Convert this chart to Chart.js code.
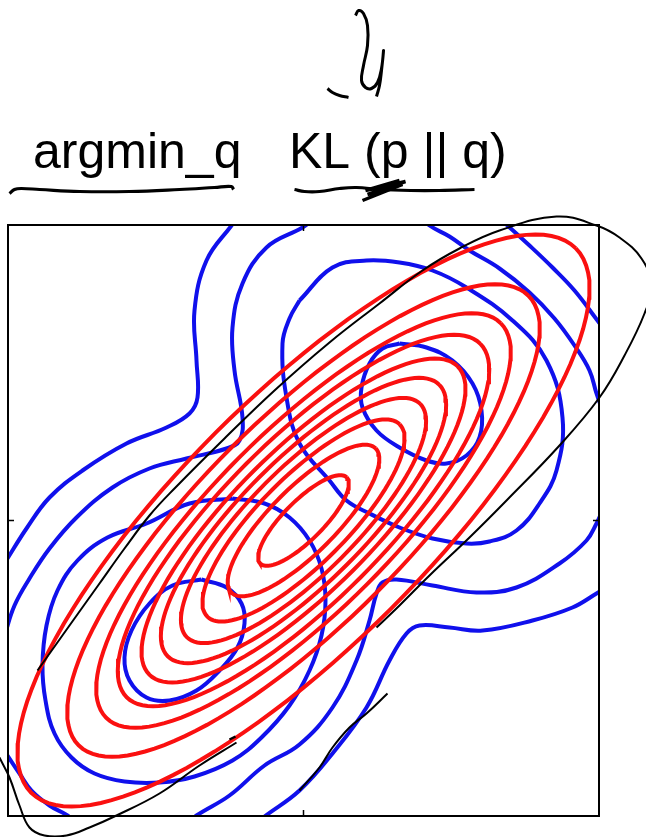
<!DOCTYPE html>
<html>
<head>
<meta charset="utf-8">
<title>argmin_q KL (p || q)</title>
<script src="https://cdn.jsdelivr.net/npm/chart.js@4/dist/chart.umd.min.js"></script>
<style>
  html, body { margin: 0; padding: 0; background: #fff; }
  canvas { display: block; }
</style>
</head>
<body>
<canvas id="kl-chart" width="646" height="837"></canvas>
<script>
//axis range, square plot with a single tick in the middle
const axisMin = -295.5;
const axisMax = 295.5;
const tickValues = [0];

//q : one gaussian, half lengths of each contour along its two axes
const qMajor = [61, 102, 136, 165, 192, 218, 250, 279, 318, 385];
const qMinor = [19.7, 32.9, 43.9, 53.2, 61.9, 70.3, 80.6, 90.0, 102.6, 124.2];
const qAngle = 45;

//p : mixture of two gaussians, contours as [x, y]
const pInnerLow = [[-102,-59],[-77,-67],[-62,-83],[-59,-103],[-66,-127],[-84,-150],[-107,-170],[-134,-180],[-157,-177],[-174,-160],[-179,-137],[-172,-110],[-154,-83],[-131,-65],[-102,-59]];
const pInnerHigh = [[96,177],[123,173],[149,160],[169,137],[178,110],[176,83],[163,65],[143,57],[123,60],[96,73],[73,90],[59,113],[58,133],[66,157],[79,172],[96,177]];
const pRingLow = [[-71,22],[-39,17],[-14,3],[6,-20],[18,-48],[22,-80],[18,-115],[6,-150],[-14,-185],[-42,-217],[-71,-240],[-109,-256],[-144,-262],[-179,-261],[-209,-253],[-232,-237],[-249,-213],[-258,-180],[-261,-145],[-257,-105],[-246,-70],[-226,-40],[-196,-17],[-157,-3],[-114,17],[-71,22]];
const pRingHigh = [[-4,220],[29,253],[63,260],[96,258],[129,250],[163,233],[209,200],[243,160],[259,103],[253,50],[236,17],[213,-10],[186,-21],[163,-23],[129,-18],[96,-7],[66,7],[43,20],[26,40],[-4,77],[-17,123],[-21,177],[-14,202],[-4,220]];
//level that joins both modes (leaves the box in places)
const pMidA = [[11,302],[-1,293],[-37,273],[-61,237],[-71,193],[-69,150],[-61,103],[-64,80],[-77,72],[-117,62],[-154,52],[-191,33],[-227,3],[-254,-28],[-274,-58],[-289,-85],[-299,-115]];
const pMidB = [[-114,-302],[-107,-295],[-74,-275],[-39,-245],[-4,-224],[29,-187],[53,-140],[66,-100],[73,-73],[79,-62],[93,-59],[129,-65],[173,-72],[213,-67],[256,-43],[283,-20],[293,-3],[299,10]];
const pMidC = [[121,302],[126,295],[146,284],[166,270],[196,252],[226,228],[251,202],[271,175],[286,150],[293,127],[299,110]];
//outermost level
const pOutA = [[-64,305],[-72,295],[-97,260],[-109,210],[-107,160],[-106,123],[-114,107],[-137,93],[-177,77],[-221,50],[-254,23],[-277,-8],[-296,-38],[-302,-48]];
const pOutB = [[-302,-225],[-296,-235],[-284,-253],[-272,-270],[-254,-285],[-236,-295],[-229,-302]];
const pOutC = [[-46,-302],[-39,-296],[-4,-270],[29,-233],[63,-187],[86,-140],[103,-113],[116,-105],[146,-107],[179,-110],[229,-100],[269,-87],[293,-73],[301,-68]];
const pOutD = [[196,302],[204,295],[226,275],[249,253],[271,230],[294,200],[300,192]];

//pen marks on top of the slide
const inkLoop = [[73,-107],[96,-85],[126,-55],[166,-17],[203,20],[256,75],[296,123],[321,165],[341,207],[348,235],[338,262],[316,283],[293,295],[253,304],[196,290],[156,272],[119,250],[76,217],[26,178],[-29,130],[-79,82],[-129,32],[-154,5],[-179,-28],[-204,-63],[-234,-105],[-266,-150]];
const inkLoopEnd = [[-309,-225],[-304,-237],[-294,-257],[-284,-285],[-274,-307],[-259,-315],[-237,-315],[-214,-307],[-187,-295],[-144,-273],[-104,-245],[-67,-222]];
const inkDash = [[-74,-219],[-68,-216]];
const inkStroke = [[-4,-270],[16,-247],[29,-227],[46,-207],[63,-193],[84,-173]];
const inkHook = [[52,505],[55,510],[60,507],[64,495],[64,475],[60,455],[58,440],[62,433],[68,432],[74,438],[78,452],[80,470],[78,450],[76,435],[73,424]];
const inkTilde = [[24,432],[29,428],[36,425],[45,423]];
const inkUnderline1 = [[-294,327],[-289,331],[-282,332],[-264,331],[-224,329],[-174,329],[-124,331],[-89,333],[-72,334],[-70,331]];
const inkUnderline2 = [[-9,331],[1,329],[16,329],[36,332],[53,333],[76,331],[107,330],[136,330],[171,331]];
const inkScribble = [[59,320],[99,336],[64,326],[102,339],[62,330],[96,340]];

const RED = 'rgb(250,16,16)';
const BLUE = 'rgb(16,16,236)';
const INK = '#000';

const toPts = arr => arr.map(([x, y]) => ({x, y}));

//points round one q contour
function ellipse(a, b, deg) {
    const r = deg * Math.PI / 180;
    const pts = [];
    for (let i = 0; i <= 120; i++) {
        const t = i / 120 * 2 * Math.PI;
        const u = a * Math.cos(t), v = b * Math.sin(t);
        pts.push({x: u * Math.cos(r) - v * Math.sin(r), y: u * Math.sin(r) + v * Math.cos(r)});
    }
    return pts;
}

function curve(data, color, width, extra) {
    return Object.assign({
        data: data,
        borderColor: color,
        borderWidth: width,
        showLine: true,
        pointRadius: 0,
        pointHoverRadius: 0,
        fill: false,
        tension: 0.4,
        clip: 0
    }, extra || {});
}

//first dataset ends up on top
const datasets = [];
const free = {clip: false};
[inkLoop, inkLoopEnd, inkStroke].forEach(d => datasets.push(curve(toPts(d), INK, 2, free)));
datasets.push(curve(toPts(inkDash), INK, 2.5, free));
[inkHook, inkTilde].forEach(d => datasets.push(curve(toPts(d), INK, 3, free)));
[inkUnderline1, inkUnderline2].forEach(d => datasets.push(curve(toPts(d), INK, 3.2, free)));
datasets.push(curve(toPts(inkScribble), INK, 3.5, {clip: false, tension: 0}));

qMajor.forEach((a, i) => datasets.push(curve(ellipse(a, qMinor[i], qAngle), RED, 4, {tension: 0})));

[pInnerLow, pInnerHigh, pRingLow, pRingHigh, pMidA, pMidB, pMidC, pOutA, pOutB, pOutC, pOutD]
    .forEach(d => datasets.push(curve(toPts(d), BLUE, 4)));

//box, inward ticks and the heading
const frame = {
    id: 'frame',
    beforeDatasetsDraw(chart) {
        const ctx = chart.ctx;
        ctx.save();
        ctx.fillStyle = '#000';
        ctx.font = '50px "Liberation Sans", Arial, Helvetica, sans-serif';
        ctx.textBaseline = 'alphabetic';
        ctx.fillText('argmin_q', 33, 168);
        ctx.fillText('KL (p || q)', 289, 168);
        ctx.restore();
    },
    afterDatasetsDraw(chart) {
        const {ctx, chartArea: a, scales: {x, y}} = chart;
        ctx.save();
        ctx.strokeStyle = '#000';
        ctx.lineWidth = 2;
        ctx.strokeRect(a.left, a.top, a.right - a.left, a.bottom - a.top);
        ctx.lineWidth = 1.5;
        tickValues.forEach(v => {
            const px = x.getPixelForValue(v), py = y.getPixelForValue(v);
            ctx.beginPath();
            ctx.moveTo(px, a.bottom); ctx.lineTo(px, a.bottom - 6);
            ctx.moveTo(px, a.top); ctx.lineTo(px, a.top + 6);
            ctx.moveTo(a.left, py); ctx.lineTo(a.left + 6, py);
            ctx.moveTo(a.right, py); ctx.lineTo(a.right - 6, py);
            ctx.stroke();
        });
        ctx.restore();
    }
};

const klChart = new Chart(document.getElementById('kl-chart'), {
    type: 'scatter',
    data: {datasets: datasets},
    options: {
        responsive: false,
        animation: false,
        devicePixelRatio: 1,
        layout: {padding: {left: 8, top: 225, right: 47, bottom: 21}},
        elements: {line: {capBezierPoints: false}},
        scales: {
            x: {type: 'linear', min: axisMin, max: axisMax, display: false},
            y: {type: 'linear', min: axisMin, max: axisMax, display: false}
        },
        plugins: {legend: {display: false}, tooltip: {enabled: false}, title: {display: false}}
    },
    plugins: [frame]
});
</script>
</body>
</html>
